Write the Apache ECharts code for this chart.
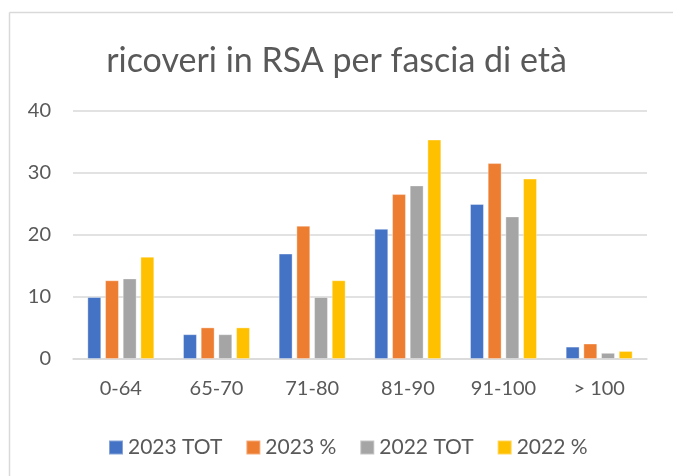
<!DOCTYPE html>
<html><head><meta charset="utf-8">
<script src="https://cdn.jsdelivr.net/npm/echarts@6/dist/echarts.min.js"></script>
<style>html,body{margin:0;padding:0;background:#fff}#c{width:673px;height:476px}</style>
</head><body><div id="c"></div>
<script>
const categories = ['0-64', '65-70', '71-80', '81-90', '91-100', '> 100'];
const seriesNames = ['2023 TOT', '2023 %', '2022 TOT', '2022 %'];
const tot2023 = [10, 4, 17, 21, 25, 2];
const pct2023 = [12.7, 5.1, 21.5, 26.6, 31.6, 2.5];
const tot2022 = [13, 4, 10, 28, 23, 1];
const pct2022 = [16.5, 5.1, 12.7, 35.4, 29.1, 1.3];
const yTicks = [0, 10, 20, 30, 40];

const colors = ['#4472C4', '#ED7D31', '#A5A5A5', '#FFC000'];
const FONT = 'Lato';
const chart = echarts.init(document.getElementById('c'), null, {renderer: 'canvas'});
const datas = [tot2023, pct2023, tot2022, pct2022];
chart.setOption({
  animation: false,
  color: colors,
  title: {
    text: 'ricoveri in RSA per fascia di età',
    left: 'center', top: 39,
    textStyle: {fontFamily: FONT, fontSize: 34, fontWeight: 'normal', color: '#595959'}
  },
  graphic: [
    {type: 'line', shape: {x1: 9.5, y1: 12.5, x2: 673, y2: 12.5}, style: {stroke: '#d9d9d9', lineWidth: 1.5}},
    {type: 'line', shape: {x1: 9.5, y1: 12.5, x2: 9.5, y2: 476}, style: {stroke: '#d9d9d9', lineWidth: 1.5}}
  ],
  legend: {
    data: seriesNames,
    bottom: 13,
    left: 103,
    itemWidth: 14, itemHeight: 14, itemGap: 23,
    icon: 'rect',
    textStyle: {fontFamily: FONT, fontSize: 21, color: '#595959'}
  },
  grid: {left: 73, right: 26, top: 111, bottom: 117, containLabel: false},
  xAxis: {
    type: 'category', data: categories,
    axisLine: {lineStyle: {color: '#d9d9d9', width: 1.5}},
    axisTick: {show: false},
    axisLabel: {fontFamily: FONT, fontSize: 20, color: '#595959', margin: 20}
  },
  yAxis: {
    type: 'value', min: yTicks[0], max: yTicks[yTicks.length - 1], interval: 10,
    axisLine: {show: false}, axisTick: {show: false},
    splitLine: {lineStyle: {color: '#d9d9d9', width: 1.5}},
    axisLabel: {fontFamily: FONT, fontSize: 20, color: '#595959', margin: 22}
  },
  series: seriesNames.map((n, i) => ({
    name: n, type: 'bar', data: datas[i],
    barGap: '27%', barCategoryGap: '30%',
    itemStyle: {borderColor: 'rgba(255,255,255,0.35)', borderWidth: 1}
  }))
});
</script></body></html>
